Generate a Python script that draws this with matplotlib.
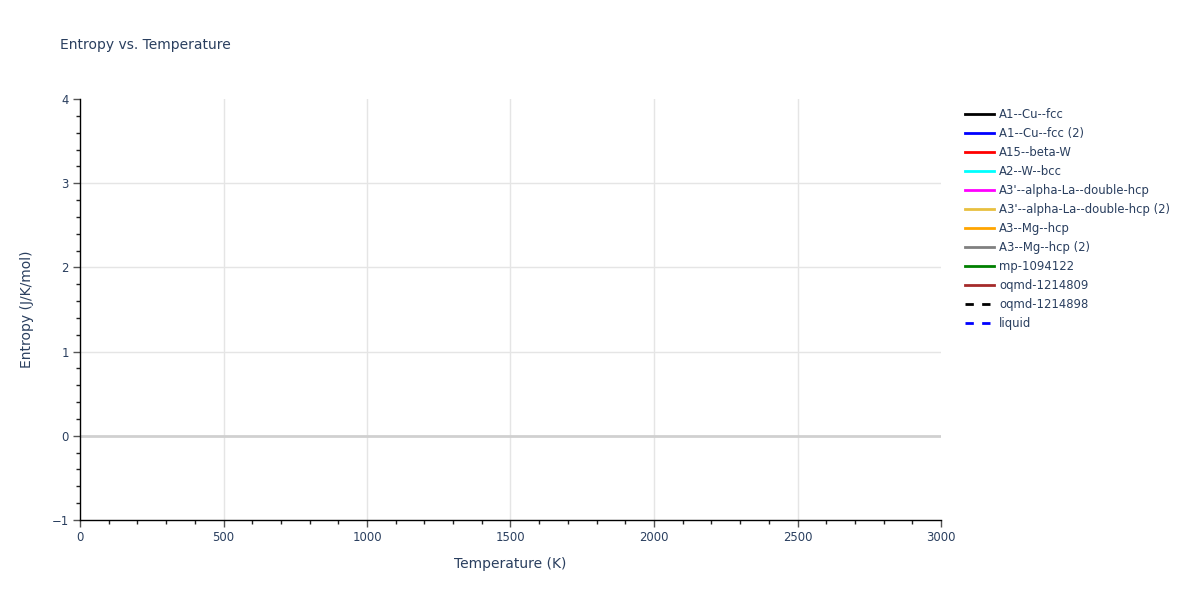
import numpy as np
import matplotlib
matplotlib.use('Agg')
import matplotlib.pyplot as plt
from matplotlib.ticker import MultipleLocator

# Phase names shown in the legend (no data points are plotted in the source chart)
phaseNames = [
    'A1--Cu--fcc', 'A1--Cu--fcc (2)', 'A15--beta-W', 'A2--W--bcc',
    "A3'--alpha-La--double-hcp", "A3'--alpha-La--double-hcp (2)",
    'A3--Mg--hcp', 'A3--Mg--hcp (2)', 'mp-1094122', 'oqmd-1214809',
    'oqmd-1214898', 'liquid',
]
phaseColors = [
    'black', 'blue', 'red', 'cyan', 'magenta', '#e8c040',
    'orange', 'gray', 'green', 'brown', 'black', 'blue',
]
phaseDashed = [False] * 10 + [True, True]

# Each series is empty in the reference
temperatures = {name: [] for name in phaseNames}
entropies = {name: [] for name in phaseNames}

textColor = '#2a3f5f'
plt.rcParams['font.family'] = ['DejaVu Sans']

fig = plt.figure(figsize=(12, 6), dpi=100)
ax = fig.add_axes([80 / 1200, 1 - 520 / 600, (941 - 80) / 1200, (520 - 99) / 600])

for name, color, dashed in zip(phaseNames, phaseColors, phaseDashed):
    ax.plot(temperatures[name], entropies[name], color=color, lw=2,
            linestyle=(0, (3, 3)) if dashed else '-', label=name)

ax.set_xlim(0, 3000)
ax.set_ylim(-1, 4)
ax.xaxis.set_major_locator(MultipleLocator(500))
ax.xaxis.set_minor_locator(MultipleLocator(100))
ax.yaxis.set_major_locator(MultipleLocator(1))
ax.yaxis.set_minor_locator(MultipleLocator(0.2))

# grid lines inside the plot only (none on the frame edges)
for x in [500, 1000, 1500, 2000, 2500]:
    ax.axvline(x, color='#e5e5e5', lw=1, zorder=0)
for y in [1, 2, 3]:
    ax.axhline(y, color='#e5e5e5', lw=1, zorder=0)
ax.axhline(0, color='#d0d0d0', lw=2, zorder=1)

for side in ['top', 'right']:
    ax.spines[side].set_visible(False)
for side in ['left', 'bottom']:
    ax.spines[side].set_color('black')
    ax.spines[side].set_linewidth(1)

ax.tick_params(which='major', direction='out', length=5, width=1, color='#555555',
               labelsize=8.4, labelcolor=textColor, pad=3)
ax.tick_params(which='minor', direction='out', length=3, width=1, color='#222222')

ax.set_xlabel('Temperature (K)', fontsize=10, color=textColor, labelpad=9)
ax.set_ylabel('Entropy (J/K/mol)', fontsize=10, color=textColor, labelpad=13)
fig.text(60 / 1200, 1 - 45 / 600, 'Entropy vs. Temperature', fontsize=10,
         color=textColor, va='center', ha='left')

leg = fig.legend(loc='upper left', bbox_to_anchor=(960 / 1200, 1 - 103 / 600),
                 frameon=False, fontsize=8.4, handlelength=2.5, handletextpad=0.45,
                 labelspacing=0.52, borderaxespad=0)
for t in leg.get_texts():
    t.set_color(textColor)

fig.savefig('out.png', dpi=100)
